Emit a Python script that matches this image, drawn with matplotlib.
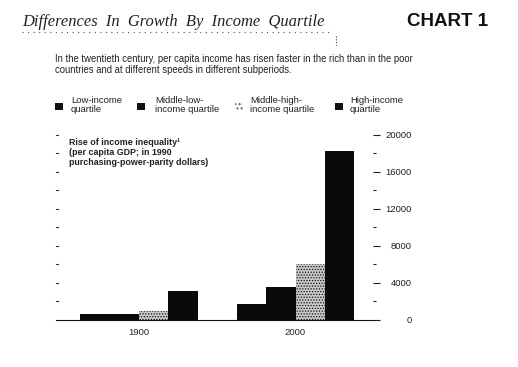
import matplotlib
matplotlib.use("Agg")
import matplotlib.pyplot as plt
import numpy as np
from matplotlib.patches import Rectangle

years = ["1900", "2000"]
series_names = ["Low-income\nquartile", "Middle-low-\nincome quartile",
                "Middle-high-\nincome quartile", "High-income\nquartile"]
low_income = [600, 1700]
middle_low = [650, 3550]
middle_high = [870, 6050]
high_income = [3100, 18250]
y_ticks = [0, 4000, 8000, 12000, 16000, 20000]
y_tick_labels = ["0", "4000", "8000", "12000", "16000", "20000"]

W, H = 518, 367
fig = plt.figure(figsize=(W / 100, H / 100), dpi=100)
fig.patch.set_facecolor("white")

def fx(px):
    return px / W

def fy(py):
    return 1 - py / H

sans = ["Liberation Sans", "DejaVu Sans"]

# Title
fig.text(fx(22), fy(22), "Differences  In  Growth  By  Income  Quartile",
         family=["Liberation Serif", "DejaVu Serif"], style="italic",
         fontsize=11.9, va="center", ha="left", color="#222")
fig.text(fx(488), fy(22), "CHART 1", family=sans, weight="bold",
         fontsize=13.5, va="center", ha="right", color="#111")
# dotted rule under title
fig.lines.append(plt.Line2D([fx(22), fx(330)], [fy(32), fy(32)],
                            transform=fig.transFigure, color="#555",
                            lw=0.8, ls=(0, (1, 4))))
fig.lines.append(plt.Line2D([fx(336), fx(336)], [fy(36), fy(45)],
                            transform=fig.transFigure, color="#333",
                            lw=0.8, ls=(0, (1, 1.5))))

# Subtitle
fig.text(fx(55), fy(59),
         "In the twentieth century, per capita income has risen faster in the rich than in the poor",
         family=sans, fontsize=6.85, va="center", ha="left", color="#222")
fig.text(fx(55), fy(70),
         "countries and at different speeds in different subperiods.",
         family=sans, fontsize=6.85, va="center", ha="left", color="#222")

# Legend
leg_x = [55, 137, 235, 335]
leg_tx = [71, 155, 250, 350]
for i, (lx, tx) in enumerate(zip(leg_x, leg_tx)):
    if i == 2:
        r = Rectangle((fx(lx), fy(110)), fx(8), 7 / H, transform=fig.transFigure,
                      facecolor="white", edgecolor="#666", hatch="....",
                      lw=0)
    else:
        r = Rectangle((fx(lx), fy(110)), fx(8), 7 / H, transform=fig.transFigure,
                      facecolor="#111", edgecolor="#111", lw=0)
    fig.patches.append(r)
    fig.text(fx(tx), fy(105), series_names[i], family=sans, fontsize=6.8,
             va="center", ha="left", color="#222", linespacing=1.05)

# Axes
ax_left, ax_right = 56, 373
ax_bottom, ax_top = 319.5, 135
ax = fig.add_axes([fx(ax_left), fy(ax_bottom), fx(ax_right - ax_left),
                   (ax_bottom - ax_top) / H])
ax.set_ylim(0, 20000)
ax.set_xlim(-0.53, 1.495)
ax.patch.set_alpha(0)

n = 4
bw = 0.187
x = np.arange(len(years))
offsets = (np.arange(n) - (n - 1) / 2) * bw
vals = [low_income, middle_low, middle_high, high_income]
plt.rcParams["hatch.linewidth"] = 0.6
for i in range(n):
    if i == 2:
        ax.bar(x + offsets[i], vals[i], width=bw, facecolor="#c8c8c8",
               edgecolor="#111", hatch="......", lw=0)
    else:
        ax.bar(x + offsets[i], vals[i], width=bw, color="#0a0a0a", lw=0)

for s in ["top", "left", "right"]:
    ax.spines[s].set_visible(False)
ax.spines["bottom"].set_linewidth(0.8)
ax.spines["bottom"].set_color("#111")

ax.set_xticks(x)
ax.set_xticklabels(years, family=sans, fontsize=6.8, color="#222")
ax.tick_params(axis="x", length=0, pad=6)

ax.yaxis.tick_right()
ax.set_yticks(y_ticks)
ax.set_yticklabels(y_tick_labels, family=sans, fontsize=6.8, color="#222")
ax.set_yticks(np.arange(2000, 20000, 4000), minor=True)
ax.tick_params(axis="y", which="major", direction="out", length=5, width=0.8,
               pad=23, color="#222")
ax.tick_params(axis="y", which="minor", direction="out", length=2, width=0.8,
               color="#222")
for lab in ax.get_yticklabels():
    lab.set_horizontalalignment("right")

# left side small ticks
for v in np.arange(2000, 20001, 2000):
    ax.plot([-0.53, -0.515], [v, v], color="#333", lw=0.8, clip_on=False)

# inner caption
ax.text(0.04, 0.985,
        "Rise of income inequality\u00b9\n(per capita GDP; in 1990\npurchasing-power-parity dollars)",
        transform=ax.transAxes, family=sans, weight="bold", fontsize=6.4,
        va="top", ha="left", color="#222", linespacing=1.15)

fig.savefig("out.png", dpi=100, facecolor="white")
